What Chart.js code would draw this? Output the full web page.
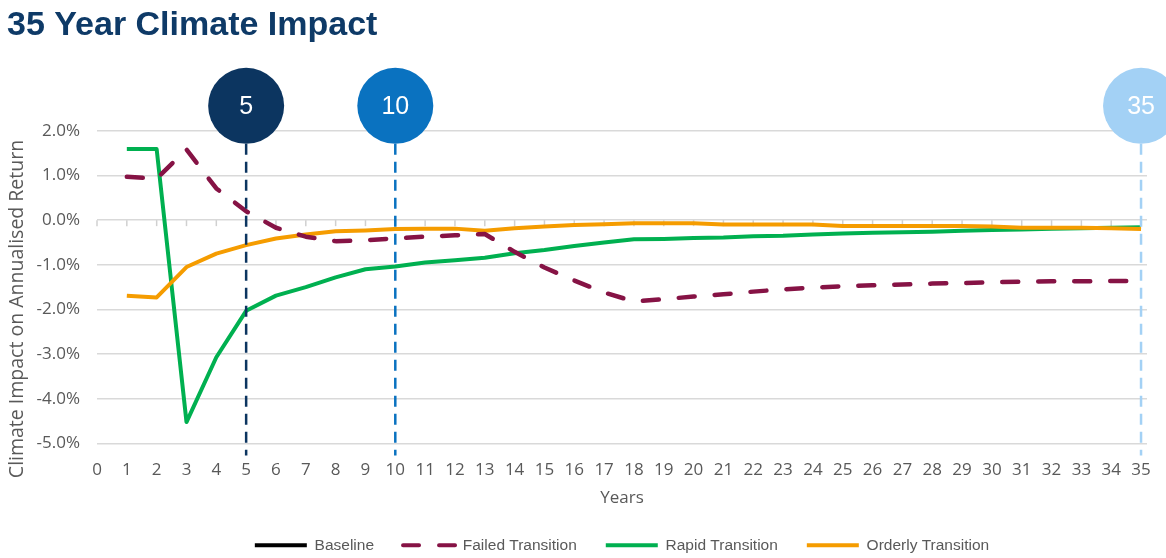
<!DOCTYPE html>
<html>
<head>
<meta charset="utf-8">
<title>35 Year Climate Impact</title>
<script src="https://cdn.jsdelivr.net/npm/chart.js@4/dist/chart.umd.min.js"></script>
<style>
  html, body { margin: 0; padding: 0; background: #ffffff; }
  #wrap { width: 1166px; height: 558px; }
</style>
</head>
<body>
<div id="wrap"><canvas id="climateChart" width="1166" height="558"></canvas></div>
<script>
// Years after the start of the projection
const years = [1, 2, 3, 4, 5, 6, 7, 8, 9, 10, 11, 12, 13, 14, 15, 16, 17, 18,
  19, 20, 21, 22, 23, 24, 25, 26, 27, 28, 29, 30, 31, 32, 33, 34, 35];

// Impact on annualised return, in %
const baseline = [];
const failedTransition = [0.97, 0.93, 1.58, 0.71, 0.2, -0.17, -0.37, -0.47, -0.45, -0.41,
  -0.37, -0.34, -0.31, -0.71, -1.06, -1.35, -1.62, -1.82, -1.77, -1.71,
  -1.66, -1.6, -1.55, -1.51, -1.48, -1.46, -1.44, -1.42, -1.41, -1.39,
  -1.38, -1.37, -1.37, -1.36, -1.36];
const rapidTransition = [1.59, 1.59, -4.52, -3.07, -2.03, -1.69, -1.5, -1.28, -1.1, -1.04,
  -0.95, -0.9, -0.84, -0.74, -0.67, -0.58, -0.5, -0.43, -0.42, -0.4,
  -0.39, -0.36, -0.35, -0.32, -0.3, -0.28, -0.27, -0.26, -0.24, -0.22,
  -0.21, -0.19, -0.18, -0.17, -0.16];
const orderlyTransition = [-1.69, -1.73, -1.05, -0.75, -0.56, -0.41, -0.32, -0.25, -0.23, -0.2,
  -0.19, -0.19, -0.24, -0.18, -0.14, -0.11, -0.09, -0.07, -0.07, -0.07,
  -0.1, -0.1, -0.1, -0.1, -0.13, -0.13, -0.13, -0.13, -0.13, -0.14,
  -0.17, -0.17, -0.17, -0.18, -0.2];

// Highlighted horizons
const milestoneYears = [5, 10, 35];
const milestoneColors = ['#0c3560', '#0a72c0', '#a3d1f5'];

const yAxisTitle = 'Climate Impact on Annualised Return';
const greyText = '#595959';

const toPoints = values => values.map((v, i) => ({ x: years[i], y: v }));

// small tick marks sitting on the 0% line
const zeroLineTicks = {
  id: 'zeroLineTicks',
  beforeDatasetsDraw(chart) {
    const { ctx, scales: { x, y } } = chart;
    const y0 = y.getPixelForValue(0);
    ctx.save();
    ctx.strokeStyle = '#d0d0d0';
    ctx.lineWidth = 1.5;
    x.ticks.forEach(t => {
      const px = x.getPixelForValue(t.value);
      ctx.beginPath();
      ctx.moveTo(px, y0);
      ctx.lineTo(px, y0 + 6);
      ctx.stroke();
    });
    ctx.restore();
  }
};

// dashed guides + numbered bubbles for 5 / 10 / 35 years
const milestones = {
  id: 'milestones',
  afterDatasetsDraw(chart) {
    const { ctx, chartArea, scales: { x, y } } = chart;
    const r = 38;
    const cy = chartArea.top - 25;
    const yEnd = y.getPixelForValue(y.min) + 12;
    milestoneYears.forEach((yr, i) => {
      const cx = x.getPixelForValue(yr);
      ctx.save();
      ctx.strokeStyle = milestoneColors[i];
      ctx.lineWidth = 2.5;
      ctx.setLineDash([11, 7]);
      ctx.beginPath();
      ctx.moveTo(cx, cy + r);
      ctx.lineTo(cx, yEnd);
      ctx.stroke();
      ctx.setLineDash([]);
      ctx.fillStyle = milestoneColors[i];
      ctx.beginPath();
      ctx.arc(cx, cy, r, 0, Math.PI * 2);
      ctx.fill();
      ctx.fillStyle = '#ffffff';
      ctx.font = '25px "Liberation Sans", Arial, sans-serif';
      ctx.textAlign = 'center';
      ctx.textBaseline = 'middle';
      ctx.fillText(String(yr), cx, cy + 1);
      ctx.restore();
    });
  }
};

// rotated y axis title
const yTitle = {
  id: 'yTitle',
  afterDraw(chart) {
    const { ctx } = chart;
    ctx.save();
    ctx.translate(17, 309);
    ctx.rotate(-Math.PI / 2);
    ctx.font = '19.5px "Open Sans", sans-serif';
    ctx.fillStyle = greyText;
    ctx.textAlign = 'center';
    ctx.textBaseline = 'middle';
    ctx.fillText(yAxisTitle, 0, 0);
    ctx.restore();
  }
};

const ctx = document.getElementById('climateChart').getContext('2d');

new Chart(ctx, {
  type: 'line',
  data: {
    datasets: [
      {
        label: 'Baseline',
        data: toPoints(baseline),
        borderColor: '#000000',
        borderWidth: 4,
        pointRadius: 0,
        order: 3
      },
      {
        label: 'Failed Transition',
        data: toPoints(failedTransition),
        borderColor: '#861345',
        borderWidth: 4.5,
        borderDash: [16, 20],
        borderCapStyle: 'round',
        borderJoinStyle: 'round',
        pointRadius: 0,
        order: 0
      },
      {
        label: 'Rapid Transition',
        data: toPoints(rapidTransition),
        borderColor: '#00b050',
        borderWidth: 4,
        borderJoinStyle: 'round',
        pointRadius: 0,
        order: 2
      },
      {
        label: 'Orderly Transition',
        data: toPoints(orderlyTransition),
        borderColor: '#f59c00',
        borderWidth: 4,
        borderJoinStyle: 'round',
        pointRadius: 0,
        order: 1
      }
    ]
  },
  options: {
    responsive: false,
    animation: false,
    layout: { padding: { left: 7, right: 19, top: 0, bottom: -5 } },
    plugins: {
      title: {
        display: true,
        text: '35 Year Climate Impact',
        align: 'start',
        color: '#0e3a67',
        font: { family: '"Liberation Sans", Arial, sans-serif', size: 34, weight: 'bold' },
        padding: { top: 5, bottom: 85 }
      },
      legend: {
        position: 'bottom',
        fullSize: false,
        labels: {
          color: greyText,
          font: { family: '"Liberation Sans", Arial, sans-serif', size: 15.5 },
          usePointStyle: true,
          pointStyleWidth: 52,
          padding: 29,
          generateLabels: chart => chart.data.datasets.map((ds, i) => ({
            text: ds.label,
            datasetIndex: i,
            fillStyle: ds.borderColor,
            strokeStyle: ds.borderColor,
            fontColor: greyText,
            lineWidth: 4,
            lineDash: ds.borderDash || [],
            lineCap: ds.borderDash ? 'round' : 'butt',
            pointStyle: 'line',
            hidden: false
          }))
        }
      },
      tooltip: { enabled: false }
    },
    scales: {
      x: {
        type: 'linear',
        min: 0,
        max: 35.2,
        afterFit: s => { s.height = 65; },
        grid: { display: false },
        border: { display: false },
        ticks: {
          stepSize: 1,
          includeBounds: false,
          autoSkip: false,
          maxRotation: 0,
          color: greyText,
          padding: 8,
          font: { family: '"Open Sans", sans-serif', size: 17 }
        },
        title: {
          display: true,
          text: 'Years',
          color: greyText,
          padding: { top: 0, bottom: 0 },
          font: { family: '"Open Sans", sans-serif', size: 17 }
        }
      },
      y: {
        min: -5,
        max: 2,
        afterFit: s => { s.width = 90; },
        grid: { color: '#d9d9d9', lineWidth: 1.5, drawTicks: false },
        border: { display: false },
        ticks: {
          stepSize: 1,
          color: greyText,
          padding: 17,
          font: { family: '"Open Sans", sans-serif', size: 17 },
          callback: v => v.toFixed(1) + '%'
        }
      }
    }
  },
  plugins: [zeroLineTicks, milestones, yTitle]
});
</script>
</body>
</html>
